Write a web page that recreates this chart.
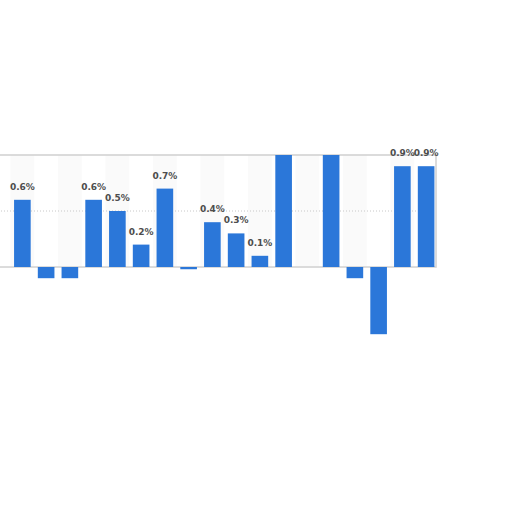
<!DOCTYPE html>
<html>
<head>
<meta charset="utf-8">
<script src="https://cdn.jsdelivr.net/npm/d3@7"></script>
<style>
  body { margin: 0; background: #fff; }
  svg { display: block; font-family: 'DejaVu Sans', sans-serif; }
</style>
</head>
<body>
<div id="chart"></div>
<script>
// one bar per period, value in percent (null = no bar drawn)
var periods = ['1', '2', '3', '4', '5', '6', '7', '8', '9', '10', '11', '12', '13', '14', '15', '16', '17', '18']
var changes = [0.6, -0.1, -0.1, 0.6, 0.5, 0.2, 0.7, -0.02, 0.4, 0.3, 0.1, 1.2, null, 1.1, -0.1, -0.6, 0.9, 0.9]
var gridTicks = [0.5]

var width = 512
var height = 512

var box = { left: -2, right: 436, top: 155, bottom: 267 }

var svg = d3
  .select('#chart')
  .append('svg')
  .attr('width', width)
  .attr('height', height)

var xScale = d3
  .scaleBand()
  .domain(periods)
  .range([10.5, 438])
  .paddingInner(0.3)
  .paddingOuter(0.15)

var yScale = d3
  .scaleLinear()
  .domain([0, 1])
  .range([box.bottom, box.top])

var defs = svg.append('defs')
defs
  .append('clipPath')
  .attr('id', 'bar-clip')
  .append('rect')
  .attr('x', 0)
  .attr('y', box.top)
  .attr('width', width)
  .attr('height', height - box.top)
defs
  .append('clipPath')
  .attr('id', 'label-clip')
  .append('rect')
  .attr('x', 0)
  .attr('y', 145)
  .attr('width', width)
  .attr('height', height - 145)

// plot box
svg
  .append('rect')
  .attr('x', box.left)
  .attr('y', box.top)
  .attr('width', box.right - box.left)
  .attr('height', box.bottom - box.top)
  .attr('fill', '#fff')

// alternating column shading, very faint
var step = xScale.step()
svg
  .selectAll('.band')
  .data(periods.filter((d, i) => i % 2 === 0))
  .enter()
  .append('rect')
  .attr('class', 'band')
  .attr('x', d => xScale(d) - xScale.paddingInner() * step / 2)
  .attr('y', box.top)
  .attr('width', step)
  .attr('height', box.bottom - box.top)
  .attr('fill', '#fafafa')

svg
  .selectAll('.grid')
  .data(gridTicks)
  .enter()
  .append('line')
  .attr('class', 'grid')
  .attr('x1', box.left)
  .attr('x2', box.right)
  .attr('y1', d => yScale(d))
  .attr('y2', d => yScale(d))
  .attr('stroke', '#c8c8c8')
  .attr('stroke-dasharray', '1,2')

svg
  .append('rect')
  .attr('x', box.left)
  .attr('y', box.top)
  .attr('width', box.right - box.left)
  .attr('height', box.bottom - box.top)
  .attr('fill', 'none')
  .attr('stroke', '#d0d0d0')
  .attr('stroke-width', 1.5)

var rows = periods
  .map((p, i) => ({ period: p, value: changes[i] }))
  .filter(d => d.value !== null)

svg
  .append('g')
  .attr('clip-path', 'url(#bar-clip)')
  .selectAll('.bar')
  .data(rows)
  .enter()
  .append('rect')
  .attr('class', 'bar')
  .attr('x', d => xScale(d.period))
  .attr('width', xScale.bandwidth())
  .attr('y', d => yScale(Math.max(0, d.value)))
  .attr('height', d => Math.max(1.5, Math.abs(yScale(d.value) - yScale(0))))
  .attr('fill', '#2b77d9')

svg
  .append('g')
  .attr('clip-path', 'url(#label-clip)')
  .selectAll('.value')
  .data(rows.filter(d => d.value > 0))
  .enter()
  .append('text')
  .attr('class', 'value')
  .attr('x', d => xScale(d.period) + xScale.bandwidth() / 2)
  .attr('y', d => yScale(d.value) - 10)
  .attr('text-anchor', 'middle')
  .attr('font-size', 9)
  .attr('font-weight', 700)
  .attr('fill', '#4d4d4d')
  .text(d => d3.format('.1f')(d.value) + '%')
</script>
</body>
</html>
